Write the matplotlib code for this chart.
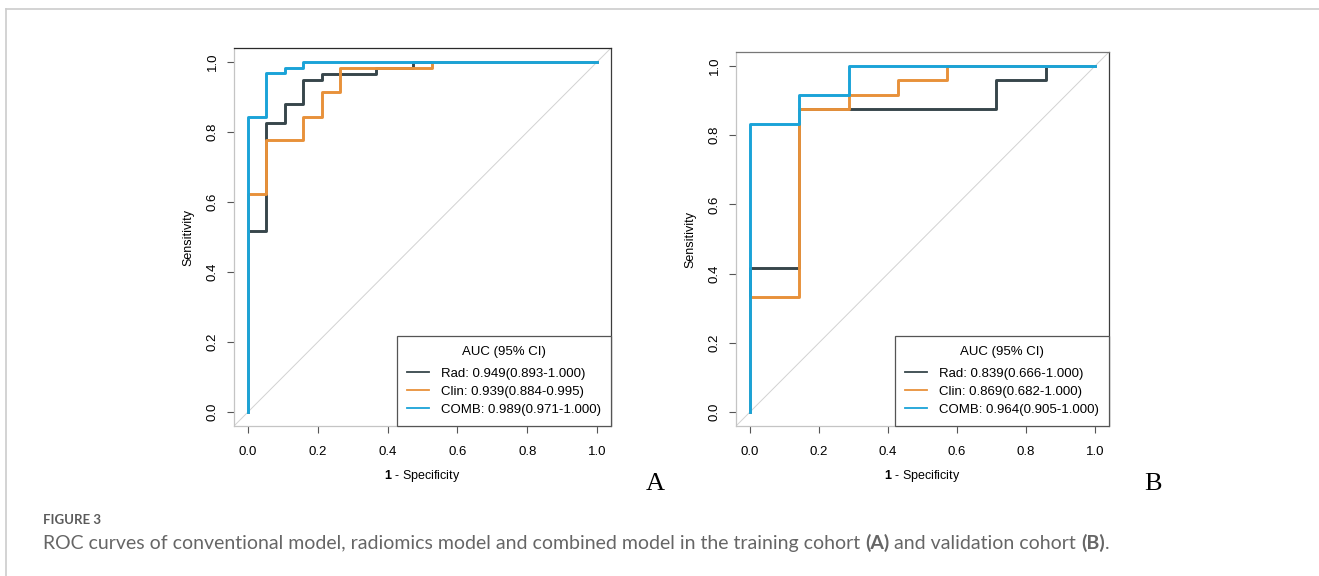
import matplotlib
matplotlib.use('Agg')
import matplotlib.pyplot as plt
from matplotlib.lines import Line2D

plt.rcParams['font.family'] = ['Liberation Sans', 'DejaVu Sans']
plt.rcParams['mathtext.fontset'] = 'custom'
plt.rcParams['mathtext.rm'] = 'Liberation Sans'
plt.rcParams['mathtext.bf'] = 'Liberation Sans:bold'

# ROC curves as steps: 1-specificity where the curve turns and the sensitivity reached there
# (A) training cohort
train_rad_fpr = [0.0, 0.053, 0.105, 0.158, 0.211, 0.368, 0.474, 1.0]
train_rad_tpr = [0.0, 0.518, 0.827, 0.880, 0.949, 0.966, 0.982, 1.0]
train_clin_fpr = [0.0, 0.053, 0.158, 0.211, 0.263, 0.526, 1.0]
train_clin_tpr = [0.0, 0.622, 0.777, 0.844, 0.915, 0.982, 1.0]
train_comb_fpr = [0.0, 0.053, 0.105, 0.158, 1.0]
train_comb_tpr = [0.0, 0.844, 0.968, 0.982, 1.0]

# (B) validation cohort
valid_rad_fpr = [0.0, 0.143, 0.714, 0.857, 1.0]
valid_rad_tpr = [0.0, 0.417, 0.875, 0.958, 1.0]
valid_clin_fpr = [0.0, 0.143, 0.286, 0.429, 0.571, 1.0]
valid_clin_tpr = [0.0, 0.333, 0.875, 0.917, 0.958, 1.0]
valid_comb_fpr = [0.0, 0.143, 0.286, 1.0]
valid_comb_tpr = [0.0, 0.833, 0.917, 1.0]

train_labels = ['Rad: 0.949(0.893-1.000)', 'Clin: 0.939(0.884-0.995)', 'COMB: 0.989(0.971-1.000)']
valid_labels = ['Rad: 0.839(0.666-1.000)', 'Clin: 0.869(0.682-1.000)', 'COMB: 0.964(0.905-1.000)']

ticks = [0.0, 0.2, 0.4, 0.6, 0.8, 1.0]
tick_labels = ['0.0', '0.2', '0.4', '0.6', '0.8', '1.0']

colors = ['#37464b', '#e8913a', '#1aa3d8']

W, H = 1319, 576
fig = plt.figure(figsize=(W / 100, H / 100), dpi=100)


def roc_panel(rect, curves, labels, top_color):
    ax = fig.add_axes(rect)
    ax.axline((0, 0), (1, 1), color='#d2d2d2', lw=0.7, zorder=1)
    for (fx, ty), lab, c in zip(curves, labels, colors):
        ax.step(fx, ty, where='pre', color=c, lw=2.1, label=lab, zorder=3)
    ax.set_xlim(-0.04, 1.04)
    ax.set_ylim(-0.04, 1.04)
    ax.set_xticks(ticks)
    ax.set_xticklabels(tick_labels)
    ax.set_yticks(ticks)
    ax.set_yticklabels(tick_labels, rotation=90, va='center')
    ax.tick_params(length=5, width=0.8, color='#555555', labelsize=9.5, pad=9.5)
    ax.tick_params(axis='y', pad=6)
    ax.spines['left'].set_color('#c4c4c4')
    ax.spines['bottom'].set_color('#c4c4c4')
    ax.spines['top'].set_color(top_color)
    ax.spines['right'].set_color('#3c3c3c')
    for s in ax.spines.values():
        s.set_linewidth(0.9)
    ax.set_xlabel(r'$\mathbf{1}$ - Specificity', fontsize=9, labelpad=7)
    ax.set_ylabel('Sensitivity', fontsize=9, labelpad=9)
    leg = ax.legend(loc='lower right', title='AUC (95% CI)', fontsize=9.5, title_fontsize=9.5,
                    frameon=True, fancybox=False, edgecolor='#555555', framealpha=1,
                    borderaxespad=0, handlelength=1.7, handletextpad=0.9,
                    borderpad=0.75, labelspacing=0.45)
    leg.get_frame().set_linewidth(0.9)
    leg._legend_box.sep = 7.0  # more room under the title, like the R legend
    for l in leg.get_lines():
        l.set_linewidth(1.3)
    return ax


axA = roc_panel([234 / W, 1 - 426 / H, 377 / W, 378 / H],
                [(train_rad_fpr, train_rad_tpr), (train_clin_fpr, train_clin_tpr),
                 (train_comb_fpr, train_comb_tpr)], train_labels, '#2a2a2a')
axB = roc_panel([736 / W, 1 - 426 / H, 373 / W, 374 / H],
                [(valid_rad_fpr, valid_rad_tpr), (valid_clin_fpr, valid_clin_tpr),
                 (valid_comb_fpr, valid_comb_tpr)], valid_labels, '#777777')

fig.text(655 / W, 1 - 484 / H, 'A', family='Liberation Serif', fontsize=19, ha='center', va='center')
fig.text(1153 / W, 1 - 484 / H, 'B', family='Liberation Serif', fontsize=19, ha='center', va='center')

# page frame of the article figure
fig.add_artist(Line2D([6 / W, 1], [1 - 9 / H, 1 - 9 / H], color='#cccccc', lw=1.2))
fig.add_artist(Line2D([6 / W, 6 / W], [0, 1 - 9 / H], color='#cccccc', lw=1.2))

# caption
fig.text(43 / W, 1 - 520 / H, 'FIGURE 3', family=['Lato', 'DejaVu Sans'], weight='bold',
         fontsize=9.5, color='#5a5a5a', va='center')

cap_parts = [('ROC curves of conventional model, radiomics model and combined model in the training cohort', 'normal'),
             ('(A)', 'bold'),
             ('and validation cohort', 'normal'),
             ('(B)', 'bold'),
             ('.', 'normal')]
r = fig.canvas.get_renderer()
probe1 = fig.text(0, 0, 'x x', family=['Lato', 'DejaVu Sans'], fontsize=14)
probe2 = fig.text(0, 0, 'xx', family=['Lato', 'DejaVu Sans'], fontsize=14)
space = probe1.get_window_extent(r).width - probe2.get_window_extent(r).width
probe1.remove()
probe2.remove()
x = 43.0
for i, (s, w) in enumerate(cap_parts):
    t = fig.text(x / W, 1 - 549 / H, s, family=['Lato', 'DejaVu Sans'], weight=w,
                 fontsize=14, color='#666666', va='baseline')
    x = t.get_window_extent(r).x1
    if i + 1 < len(cap_parts) and cap_parts[i + 1][0] != '.':
        x += space

fig.savefig('out.png', dpi=100)
